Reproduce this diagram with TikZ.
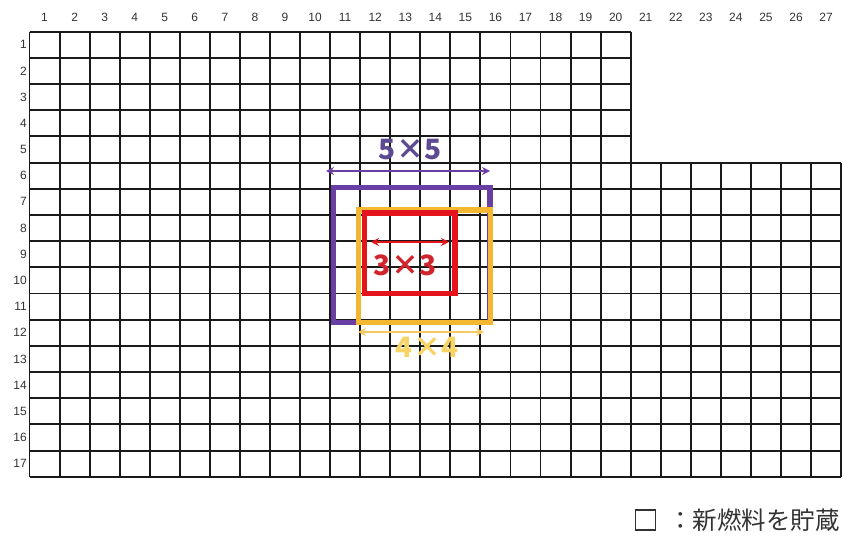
\documentclass[tikz,border=0pt]{standalone}
\usepackage{fontspec}
\setmainfont{Liberation Sans}
\newfontfamily\jpfont{Noto Sans CJK JP}
\usetikzlibrary{arrows.meta}
\definecolor{gridc}{HTML}{1A1A1A}
\definecolor{numc}{HTML}{333333}
\definecolor{purp}{HTML}{6A3FA3}
\definecolor{purptxt}{HTML}{5D4A92}
\definecolor{gold}{HTML}{F3B731}
\definecolor{goldtxt}{HTML}{F6D466}
\definecolor{redc}{HTML}{E3141C}
\definecolor{redtxt}{HTML}{D0252D}
\tikzset{
  gridline/.style={draw=gridc, line width=1.9pt},
  numlbl/.style={font=\fontsize{12}{12}\selectfont, text=numc, inner sep=0pt},
  zone/.style={line width=5.5pt},
  dimarrow/.style={line width=1.5pt, {Stealth[length=8pt,width=8pt]}-{Stealth[length=8pt,width=8pt]}},
  dimlbl/.style={font=\jpfont\bfseries\fontsize{28}{28}\selectfont, inner sep=0pt},
}
\begin{document}
\begin{tikzpicture}[x=1pt,y=-1pt]
\useasboundingbox (0,0) rectangle (843,537);
\def\XO{29.5}\def\YO{31.7}\def\CW{30.06}\def\CH{26.18}
% upper part: rows 1-5, columns 1-20
\foreach \i in {0,...,20}
  \draw[gridline] ({\XO+\i*\CW},\YO) -- ({\XO+\i*\CW},{\YO+5*\CH});
\foreach \j in {0,...,4}
  \draw[gridline] (\XO,{\YO+\j*\CH}) -- ({\XO+20*\CW},{\YO+\j*\CH});
% lower part: rows 6-17, columns 1-27
\foreach \i in {0,...,27}
  \draw[gridline] ({\XO+\i*\CW},{\YO+5*\CH}) -- ({\XO+\i*\CW},{\YO+17*\CH});
\foreach \j in {5,...,17}
  \draw[gridline] (\XO,{\YO+\j*\CH}) -- ({\XO+27*\CW},{\YO+\j*\CH});
% column labels
\foreach \i in {1,...,27}
  \node[numlbl] (c\i) at ({\XO+(\i-0.5)*\CW},17) {\i};
% row labels
\foreach \j in {1,...,17}
  \node[numlbl, anchor=east] (r\j) at (27,{\YO+(\j-0.5)*\CH}) {\j};
% zones
\draw[zone, purp] (333.5,187.5) rectangle (490,322.5);
\draw[zone, gold] (358.5,210) rectangle (490.5,322.5);
\draw[zone, redc] (364.5,213) rectangle (455,293.5);
% dimension arrows
\coordinate (p1) at (326,171); \coordinate (p2) at (490,171);
\draw[dimarrow, purp] (p1) -- (p2);
\node[dimlbl, text=purptxt] (l5) at (410,150) {5×5};
\coordinate (r1) at (371,242); \coordinate (r2) at (449,242);
\draw[dimarrow, redc] (r1) -- (r2);
\node[dimlbl, text=redtxt] (l3) at (405,265) {3×3};
\coordinate (y1) at (358,332); \coordinate (y2) at (484,332);
\draw[dimarrow, gold!75] (y1) -- (y2);
\node[dimlbl, text=goldtxt] (l4) at (427,347) {4×4};
% legend
\node[draw=numc, line width=1.4pt, minimum width=20pt, minimum height=20pt, inner sep=0pt] (legbox) at (645.5,520) {};
\node[anchor=west, font=\jpfont\fontsize{24.5}{24.5}\selectfont, text=numc, inner sep=0pt] (legtxt) at (668,520) {：新燃料を貯蔵};
\end{tikzpicture}
\end{document}
